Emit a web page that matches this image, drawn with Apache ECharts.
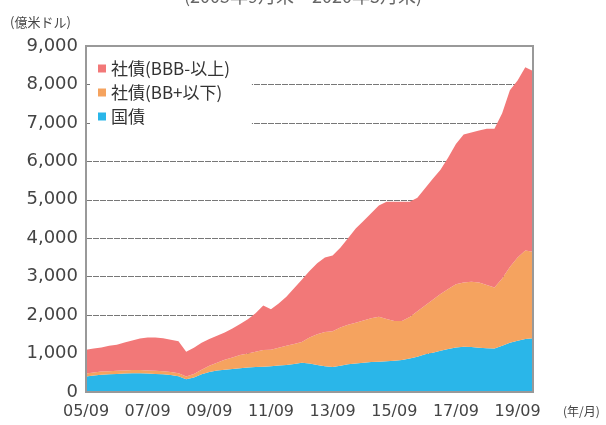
<!DOCTYPE html>
<html>
<head>
<meta charset="utf-8">
<script src="https://cdn.jsdelivr.net/npm/echarts@6/dist/echarts.min.js"></script>
<style>
html,body{margin:0;padding:0;background:#fff;}
#chart{width:606px;height:425px;}
</style>
</head>
<body>
<div id="chart"></div>
<script>
const categories = [
  "05/09","05/12","06/03","06/06","06/09","06/12","07/03","07/06",
  "07/09","07/12","08/03","08/06","08/09","08/12","09/03","09/06",
  "09/09","09/12","10/03","10/06","10/09","10/12","11/03","11/06",
  "11/09","11/12","12/03","12/06","12/09","12/12","13/03","13/06",
  "13/09","13/12","14/03","14/06","14/09","14/12","15/03","15/06",
  "15/09","15/12","16/03","16/06","16/09","16/12","17/03","17/06",
  "17/09","17/12","18/03","18/06","18/09","18/12","19/03","19/06",
  "19/09","19/12","20/03"
];
// 国債
const govBonds = [
  400,430,450,460,470,480,490,490,
  480,470,460,440,410,330,380,460,
  520,560,580,600,620,640,650,660,
  670,690,700,730,760,740,700,670,
  650,680,720,740,760,780,790,800,
  810,830,870,920,980,1020,1070,1120,
  1160,1180,1170,1150,1140,1130,1200,1280,
  1330,1380,1400
];
// 社債(BB+以下)
const highYield = [
  80,80,80,80,80,80,80,80,
  80,80,80,80,80,70,90,120,
  160,200,260,300,340,360,400,430,
  430,460,500,520,540,680,800,890,
  930,1000,1030,1060,1100,1140,1170,1100,
  1040,1020,1080,1180,1270,1380,1480,1560,
  1640,1670,1700,1700,1640,1590,1750,1970,
  2170,2300,2250
];
// 社債(BBB-以上)
const investmentGrade = [
  620,620,630,660,680,730,770,820,
  860,870,860,840,830,650,680,700,
  700,700,710,750,810,890,1000,1160,
  1050,1150,1280,1450,1620,1730,1850,1940,
  1970,2070,2250,2450,2590,2730,2890,3050,
  3100,3100,3000,2950,3050,3150,3230,3420,
  3650,3850,3880,3950,4070,4130,4300,4600,
  4600,4770,4700
];
const yTicks = [0,1000,2000,3000,4000,5000,6000,7000,8000,9000];
const seriesNames = ["社債(BBB-以上)","社債(BB+以下)","国債"];
const titleText = "(2005年9月末～2020年3月末)";
const yUnit = "(億米ドル)";
const xUnit = "(年/月)";

const colors = {ig:"#f27878", hy:"#f5a35f", gov:"#2ab6e9"};
const numFont = "DejaVu Sans";
const cjkFont = "Noto Sans CJK JP";

const chart = echarts.init(document.getElementById('chart'), null, {renderer:'canvas'});
function areaSeries(name, data, color){
  return {
    name: name, type: 'line', stack: 'total', data: data,
    showSymbol: false, symbol: 'none', smooth: false,
    lineStyle: {width: 0}, areaStyle: {color: color, opacity: 1},
    itemStyle: {color: color}, emphasis: {disabled: true}
  };
}
chart.setOption({
  animation: false,
  backgroundColor: '#fff',
  grid: {left: 86, right: 73, top: 46, bottom: 33, show: true, borderColor: '#999', borderWidth: 2, backgroundColor: 'transparent', z: 5},
  legend: {
    orient: 'vertical', left: 90, top: 55,
    data: seriesNames,
    icon: 'rect', itemWidth: 8, itemHeight: 8, itemGap: 7,
    padding: [5, 22, 5, 8],
    backgroundColor: '#fff',
    textStyle: {fontFamily: cjkFont, fontSize: 17, color: '#333'},
    z: 4
  },
  xAxis: {
    type: 'category', data: categories, boundaryGap: false,
    axisLine: {show: false},
    axisTick: {show: true, inside: true, length: 4, interval: 7, lineStyle: {color: '#333', width: 1.5}},
    axisLabel: {interval: 7, margin: 12, fontFamily: numFont, fontSize: 16, color: '#444'},
    splitLine: {show: false}
  },
  yAxis: {
    type: 'value', min: yTicks[0], max: yTicks[yTicks.length-1], interval: 1000,
    axisLine: {show: false}, axisTick: {show: false},
    axisLabel: {margin: 8, fontFamily: numFont, fontSize: 18, color: '#444',
      formatter: v => v.toLocaleString('en-US')},
    splitLine: {show: true, lineStyle: {color: '#777', width: 1, type: [6, 1]}}
  },
  graphic: [
    {type: 'text', left: 'center', top: -13, style: {text: titleText, font: '18px "Noto Sans CJK JP"', fill: '#666'}},
    {type: 'text', left: 10, top: 16, style: {text: yUnit, font: '13px "Noto Sans CJK JP"', fill: '#444'}},
    {type: 'text', left: 563, top: 405, style: {text: xUnit, font: '12px "Noto Sans CJK JP"', fill: '#444'}}
  ],
  series: [
    areaSeries(seriesNames[2], govBonds, colors.gov),
    areaSeries(seriesNames[1], highYield, colors.hy),
    areaSeries(seriesNames[0], investmentGrade, colors.ig)
  ]
});
</script>
</body>
</html>
